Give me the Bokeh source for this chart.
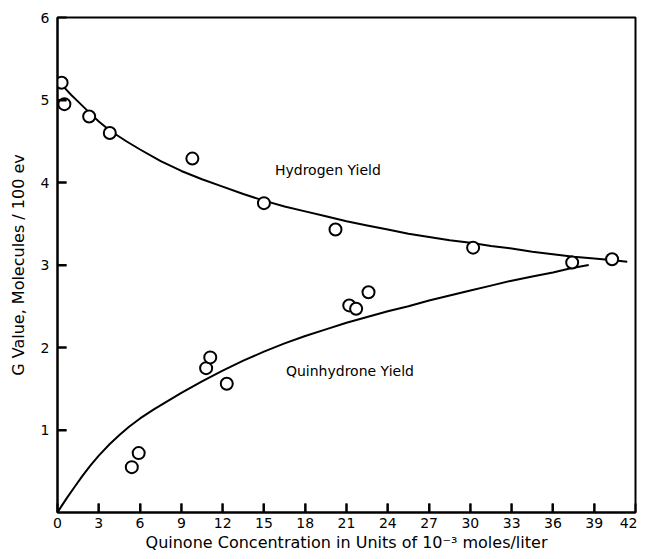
from bokeh.plotting import figure
from bokeh.models import Range1d, FixedTicker, Label
from bokeh.embed import file_html
from bokeh.resources import INLINE

# Measured points
h2_x = [0.3, 0.5, 2.3, 3.8, 9.8, 15.0, 20.2, 30.2, 37.4, 40.3]
h2_y = [5.21, 4.95, 4.80, 4.60, 4.29, 3.75, 3.43, 3.21, 3.03, 3.07]

qh_x = [5.4, 5.9, 10.8, 11.1, 12.3, 21.2, 21.7, 22.6]
qh_y = [0.55, 0.72, 1.75, 1.88, 1.56, 2.51, 2.47, 2.67]

# Smooth curves
h2c_x = [0.0, 0.5, 1.0, 1.5, 2.3, 3.0, 3.8, 5.0, 6.0, 7.5, 9.0, 10.5, 12.0, 13.5, 15.0, 16.5,
         18.0, 19.5, 21.0, 22.5, 24.0, 25.5, 27.0, 28.5, 30.0, 31.5, 33.0, 34.5, 36.0, 37.5, 39.0, 40.2, 41.4]
h2c_y = [5.25, 5.15, 5.06, 4.98, 4.85, 4.74, 4.63, 4.50, 4.40, 4.26, 4.14, 4.04, 3.95, 3.86, 3.78, 3.71,
         3.65, 3.59, 3.53, 3.48, 3.43, 3.38, 3.34, 3.30, 3.27, 3.23, 3.20, 3.16, 3.13, 3.10, 3.08, 3.06, 3.04]

qhc_x = [0.0, 0.3, 0.7, 1.2, 1.8, 2.4, 3.0, 3.8, 4.5, 5.2, 6.0, 7.0, 8.0, 9.0, 10.5, 12.0, 13.5, 15.0,
         16.5, 18.0, 19.5, 21.0, 22.5, 24.0, 25.5, 27.0, 28.5, 30.0, 31.5, 33.0, 34.5, 36.0, 37.3, 38.6]
qhc_y = [0.0, 0.08, 0.18, 0.30, 0.44, 0.57, 0.69, 0.83, 0.94, 1.04, 1.14, 1.25, 1.35, 1.45, 1.59, 1.72,
         1.84, 1.95, 2.05, 2.14, 2.22, 2.30, 2.37, 2.44, 2.50, 2.57, 2.63, 2.69, 2.75, 2.81, 2.86, 2.91, 2.96, 3.00]

x_ticks = [0, 3, 6, 9, 12, 15, 18, 21, 24, 27, 30, 33, 36, 39, 42]
y_ticks = [1, 2, 3, 4, 5, 6]

FONT = "DejaVu Sans"
X_MIN, X_MAX, Y_MIN, Y_MAX = 0, 42, 0, 6
W, H = 637, 558
BL, BR, BT, BB = 57, 2, 17, 46
TICK_PX, TICK_W = 9, 2

p = figure(width=W, height=H, output_backend="svg", toolbar_location=None,
           x_range=Range1d(X_MIN, X_MAX), y_range=Range1d(Y_MIN, Y_MAX),
           min_border_left=BL, min_border_right=BR, min_border_top=BT, min_border_bottom=BB)

p.background_fill_color = "white"
p.border_fill_color = "white"
p.outline_line_color = "black"
p.outline_line_width = 2
p.xgrid.visible = False
p.ygrid.visible = False

p.line(h2c_x, h2c_y, line_color="black", line_width=2)
p.line(qhc_x, qhc_y, line_color="black", line_width=2)
p.scatter(h2_x, h2_y, size=12, marker="circle", fill_color="white", line_color="black", line_width=2)
p.scatter(qh_x, qh_y, size=12, marker="circle", fill_color="white", line_color="black", line_width=2)

# inward tick marks as small filled bars (pixel sizes converted to data units)
ux = (X_MAX - X_MIN) / (W - BL - BR)
uy = (Y_MAX - Y_MIN) / (H - BT - BB)
xt = x_ticks[1:-1]
yt = y_ticks[:-1]
p.quad(left=[t - 0.5 * TICK_W * ux for t in xt], right=[t + 0.5 * TICK_W * ux for t in xt],
       bottom=[Y_MIN] * len(xt), top=[Y_MIN + TICK_PX * uy] * len(xt),
       fill_color="black", line_color=None)
p.quad(left=[X_MIN] * len(yt), right=[X_MIN + TICK_PX * ux] * len(yt),
       bottom=[t - 0.5 * TICK_W * uy for t in yt], top=[t + 0.5 * TICK_W * uy for t in yt],
       fill_color="black", line_color=None)

p.add_layout(Label(x=15.8, y=4.15, text="Hydrogen  Yield", text_font=FONT, text_font_size="14px",
                   text_baseline="middle", text_color="black"))
p.add_layout(Label(x=16.6, y=1.72, text="Quinhydrone  Yield", text_font=FONT, text_font_size="14px",
                   text_baseline="middle", text_color="black"))

for ax in (p.xaxis[0], p.yaxis[0]):
    ax.axis_line_color = "black"
    ax.axis_line_width = 2
    ax.major_tick_in = TICK_PX
    ax.major_tick_out = 0
    ax.major_tick_line_color = "black"
    ax.major_tick_line_width = TICK_W
    ax.minor_tick_line_color = None
    ax.major_label_text_font = FONT
    ax.major_label_text_font_size = "14px"
    ax.major_label_text_color = "black"
    ax.axis_label_text_font = FONT
    ax.axis_label_text_font_size = "16px"
    ax.axis_label_text_font_style = "normal"
    ax.axis_label_text_color = "black"

p.xaxis.ticker = FixedTicker(ticks=x_ticks)
p.yaxis.ticker = FixedTicker(ticks=y_ticks)
p.xaxis.major_label_standoff = 5
p.yaxis.major_label_standoff = 8
p.xaxis.axis_label = "Quinone Concentration in Units of 10\u207b\u00b3 moles/liter"
p.yaxis.axis_label = "G Value, Molecules / 100 ev"
p.xaxis.axis_label_standoff = 2
p.yaxis.axis_label_standoff = 10

open("out.html", "w").write(file_html(p, INLINE))
